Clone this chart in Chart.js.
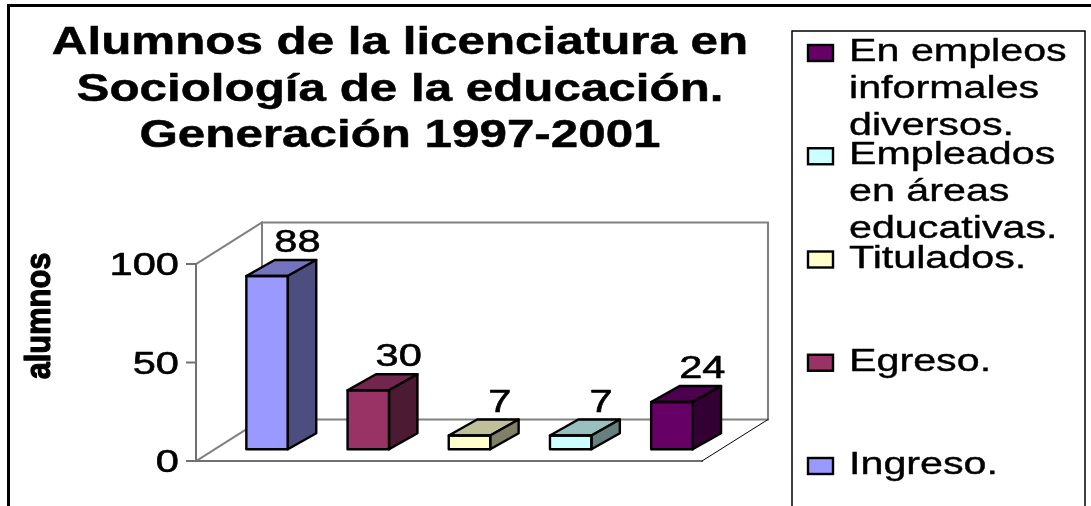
<!DOCTYPE html>
<html><head><meta charset="utf-8">
<script src="https://cdn.jsdelivr.net/npm/chart.js@4/dist/chart.umd.min.js"></script>
<style>html,body{margin:0;padding:0;background:#fff;}canvas{display:block;}</style>
</head><body>
<canvas id="c" width="1091" height="506"></canvas>
<script>
// ---- data ----
const categories = ['Ingreso.', 'Egreso.', 'Titulados.', 'Empleados en áreas educativas.', 'En empleos informales diversos.'];
const legendLines = [['Ingreso.'], ['Egreso.'], ['Titulados.'], ['Empleados', 'en áreas', 'educativas.'], ['En empleos', 'informales', 'diversos.']];
const values = [88, 30, 7, 7, 24];
const colors = ['#9999FF', '#993366', '#FFFFCC', '#CCFFFF', '#660066'];
const yTicks = [0, 50, 100];
const titleLines = ['Alumnos de la licenciatura en', 'Sociología de la educación.', 'Generación 1997-2001'];
const yTitle = 'alumnos';

// ---- style ----
const FONT = '"Liberation Sans", Arial, sans-serif';
const WALL = {dx: 66, dy: -41.5};
const BAR = {sx: 20.5, sy: -11.7, dx: 28.4, dy: -16};
const GRAY = '#808080';

function shade(hex, f) {
  const n = parseInt(hex.slice(1), 16);
  const r = Math.round(((n >> 16) & 255) * f), g = Math.round(((n >> 8) & 255) * f), b = Math.round((n & 255) * f);
  return `rgb(${r},${g},${b})`;
}
function stretchText(ctx, text, x, y, font, sx, align, heavy) {
  ctx.save();
  ctx.translate(x, y);
  ctx.scale(sx, 1);
  ctx.font = font;
  ctx.textAlign = align;
  ctx.textBaseline = 'alphabetic';
  ctx.fillStyle = '#000';
  ctx.fillText(text, 0, 0);
  if (heavy) {
    ctx.strokeStyle = '#000';
    ctx.lineWidth = heavy;
    ctx.lineJoin = 'round';
    ctx.strokeText(text, 0, 0);
  }
  ctx.restore();
}
function line(ctx, x1, y1, x2, y2) { ctx.beginPath(); ctx.moveTo(x1, y1); ctx.lineTo(x2, y2); ctx.stroke(); }

const plugin3d = {
  id: 'threeD',
  beforeDraw(chart) {
    const ctx = chart.ctx;
    ctx.save();
    ctx.fillStyle = '#fff';
    ctx.fillRect(0, 0, chart.width, chart.height);
    ctx.strokeStyle = '#000';
    ctx.lineWidth = 3;
    ctx.strokeRect(8.5, 5.5, 1200, 700);
    ctx.restore();
  },
  beforeDatasetsDraw(chart) {
    const ctx = chart.ctx, ca = chart.chartArea, y = chart.scales.y;
    const L = ca.left, R = ca.right, T = y.getPixelForValue(100), B = y.getPixelForValue(0);
    const dx = WALL.dx, dy = WALL.dy;
    ctx.save();
    ctx.strokeStyle = GRAY;
    ctx.lineWidth = 2;
    ctx.lineCap = 'square';
    ctx.strokeRect(L + dx, T + dy, R - L, B - T);
    line(ctx, L, T, L + dx, T + dy);
    line(ctx, L, B, L + dx, B + dy);
    ctx.strokeStyle = '#707070';
    line(ctx, L, T, L, B);
    line(ctx, L, B, R, B);
    yTicks.forEach(v => { const py = y.getPixelForValue(v); line(ctx, L - 9, py, L, py); });
    ctx.strokeStyle = '#000';
    ctx.lineWidth = 1;
    line(ctx, R, B, R + dx, B + dy);
    ctx.restore();
  },
  beforeDatasetDraw(chart) { chart.ctx.save(); chart.ctx.translate(BAR.sx, BAR.sy); },
  afterDatasetDraw(chart) { chart.ctx.restore(); },
  afterDatasetsDraw(chart) {
    const ctx = chart.ctx;
    const meta = chart.getDatasetMeta(0);
    ctx.save();
    ctx.lineWidth = 2.4;
    ctx.lineJoin = 'round';
    ctx.strokeStyle = '#000';
    meta.data.forEach((el, i) => {
      const p = el.getProps(['x', 'y', 'base', 'width'], true);
      const x0 = p.x - p.width / 2 + BAR.sx, x1 = p.x + p.width / 2 + BAR.sx;
      const yt = Math.min(p.y, p.base) + BAR.sy, yb = Math.max(p.y, p.base) + BAR.sy;
      const dx = BAR.dx, dy = BAR.dy;
      ctx.beginPath();
      ctx.moveTo(x0, yt); ctx.lineTo(x1, yt); ctx.lineTo(x1 + dx, yt + dy); ctx.lineTo(x0 + dx, yt + dy); ctx.closePath();
      ctx.fillStyle = shade(colors[i], 0.75); ctx.fill(); ctx.stroke();
      ctx.beginPath();
      ctx.moveTo(x1, yt); ctx.lineTo(x1 + dx, yt + dy); ctx.lineTo(x1 + dx, yb + dy); ctx.lineTo(x1, yb); ctx.closePath();
      ctx.fillStyle = shade(colors[i], 0.5); ctx.fill(); ctx.stroke();
      ctx.strokeRect(x0, yt, x1 - x0, yb - yt);
      stretchText(ctx, String(values[i]), p.x + BAR.sx + dx + 2, yt + dy - 8, '32px ' + FONT, 1.3, 'center', 0.6);
    });
    ctx.restore();
  },
  afterDraw(chart) {
    const ctx = chart.ctx, y = chart.scales.y;
    titleLines.forEach((t, i) => stretchText(ctx, t, 400, 54 + i * 46.5, 'bold 39px ' + FONT, 1.265, 'center', 0.5));
    yTicks.forEach(v => stretchText(ctx, String(v), 179, y.getPixelForValue(v) + 11.3, '32px ' + FONT, 1.3, 'right', 0.6));
    // y title
    ctx.save();
    ctx.translate(50, 316);
    ctx.rotate(-Math.PI / 2);
    ctx.scale(0.88, 1);
    ctx.font = 'bold 35px ' + FONT;
    ctx.textAlign = 'center';
    ctx.textBaseline = 'alphabetic';
    ctx.fillStyle = '#000';
    ctx.fillText(yTitle, 0, 0);
    ctx.strokeStyle = '#000';
    ctx.lineWidth = 1.2;
    ctx.lineJoin = 'round';
    ctx.strokeText(yTitle, 0, 0);
    ctx.restore();
    // legend
    ctx.save();
    ctx.strokeStyle = '#000';
    ctx.lineWidth = 1.5;
    ctx.strokeRect(792, 31, 293, 600);
    const order = [4, 3, 2, 1, 0];
    order.forEach((idx, k) => {
      const base = 61 + k * 103.25;
      ctx.fillStyle = colors[idx];
      ctx.fillRect(808, base - 16, 25, 16);
      ctx.lineWidth = 2.4;
      ctx.strokeRect(808, base - 16, 25, 16);
      legendLines[idx].forEach((ln, j) => stretchText(ctx, ln, 849, base + j * 37, '31px ' + FONT, 1.33, 'left', 0.4));
    });
    ctx.restore();
  }
};

new Chart(document.getElementById('c').getContext('2d'), {
  type: 'bar',
  data: {
    labels: categories,
    datasets: [{
      data: values,
      backgroundColor: colors,
      borderWidth: 0,
      barPercentage: 0.41,
      categoryPercentage: 1,
      clip: false
    }]
  },
  options: {
    responsive: false,
    animation: false,
    devicePixelRatio: 1,
    layout: {padding: {left: 196, right: 389, top: 264, bottom: 45}},
    plugins: {legend: {display: false}, title: {display: false}, tooltip: {enabled: false}},
    scales: {
      x: {display: false, offset: true},
      y: {display: false, min: 0, max: 100}
    }
  },
  plugins: [plugin3d]
});
</script>
</body></html>
